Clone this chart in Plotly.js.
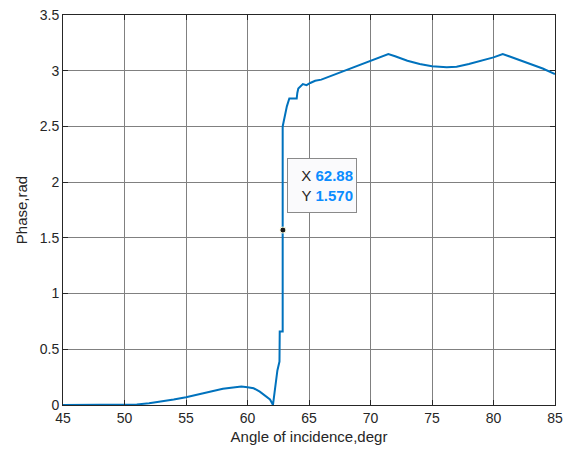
<!DOCTYPE html>
<html>
<head>
<meta charset="utf-8">
<script src="https://cdn.plot.ly/plotly-3.0.1.min.js"></script>
<style>html,body{margin:0;padding:0;background:#fff;}#chart{width:566px;height:454px;}</style>
</head>
<body>
<div id="chart"></div>
<script>
// Angle of incidence (degrees)
var angle = [45, 50, 51, 52, 53, 54, 55, 56, 57, 58, 59, 59.5, 60, 60.5, 61, 61.55, 61.83, 62.0, 62.07,
  62.43, 62.56, 62.6, 62.62, 62.86, 62.86, 62.95, 63.05, 63.2, 63.4, 64.0, 64.05, 64.13, 64.5, 64.8, 65.1,
  65.5, 66.0, 66.7, 67.5, 68.2, 69.0, 70.0, 70.7, 71.45, 72.0, 73.0, 74.0, 75.0, 76.2, 77.0, 78.0, 79.0,
  80.0, 80.75, 82.0, 83.0, 84.0, 85.0];
// Phase (rad)
var phase = [0, 0, 0.005, 0.015, 0.03, 0.05, 0.07, 0.095, 0.12, 0.145, 0.16, 0.165, 0.16, 0.15, 0.12, 0.075, 0.05, 0.015, 0,
  0.31, 0.39, 0.39, 0.66, 0.66, 2.5, 2.55, 2.6, 2.68, 2.75, 2.75, 2.8, 2.84, 2.88, 2.87, 2.89,
  2.91, 2.92, 2.95, 2.98, 3.01, 3.05, 3.09, 3.12, 3.15, 3.13, 3.09, 3.06, 3.04, 3.03, 3.035, 3.06, 3.09,
  3.12, 3.15, 3.10, 3.06, 3.02, 2.97];
// Data tip
var tipX = [62.88];
var tipY = [1.570];
var xTicks = [45, 50, 55, 60, 65, 70, 75, 80, 85];
var yTicks = [0, 0.5, 1, 1.5, 2, 2.5, 3, 3.5];

var traces = [
  {x: angle, y: phase, type: 'scatter', mode: 'lines', line: {color: '#0072BD', width: 2}, hoverinfo: 'skip'},
  {x: tipX, y: tipY, type: 'scatter', mode: 'markers',
   marker: {color: '#1a1a1a', size: 6, line: {color: '#ffffe0', width: 1}}, hoverinfo: 'skip'}
];

var axisCommon = {
  showline: true, mirror: 'ticks', linecolor: '#262626', linewidth: 1,
  showgrid: true, gridcolor: '#808080', gridwidth: 1,
  ticks: 'inside', ticklen: 5, tickcolor: '#262626',
  zeroline: false,
  tickfont: {family: 'Liberation Sans, Arial, sans-serif', size: 14, color: '#262626'}
};

var layout = {
  width: 566, height: 454,
  margin: {l: 63, r: 11, t: 15, b: 49},
  paper_bgcolor: '#ffffff', plot_bgcolor: '#ffffff',
  showlegend: false,
  xaxis: Object.assign({}, axisCommon, {
    range: [45, 85], tickvals: xTicks, ticktext: xTicks.map(String),
    title: {text: 'Angle of incidence,degr', standoff: 6,
      font: {family: 'Liberation Sans, Arial, sans-serif', size: 15, color: '#262626'}}
  }),
  yaxis: Object.assign({}, axisCommon, {
    range: [0, 3.5], tickvals: yTicks, ticktext: yTicks.map(String),
    title: {text: 'Phase,rad', standoff: 8,
      font: {family: 'Liberation Sans, Arial, sans-serif', size: 15, color: '#262626'}}
  }),
  annotations: [{
    x: 63.25, y: 2.22, xref: 'x', yref: 'y', xanchor: 'left', yanchor: 'top',
    showarrow: false, align: 'right', valign: 'middle', width: 62, height: 47,
    text: 'X <span style="color:#0a8cff"><b>' + tipX[0].toFixed(2) + '</b></span><br>Y <span style="color:#0a8cff"><b>' + tipY[0].toFixed(3) + '</b></span>',
    font: {family: 'Liberation Sans, Arial, sans-serif', size: 15, color: '#262626'},
    bgcolor: '#fafafc', bordercolor: '#8a8a8a', borderwidth: 1, borderpad: 3
  }]
};

Plotly.newPlot('chart', traces, layout, {displayModeBar: false, staticPlot: true});
</script>
</body>
</html>
